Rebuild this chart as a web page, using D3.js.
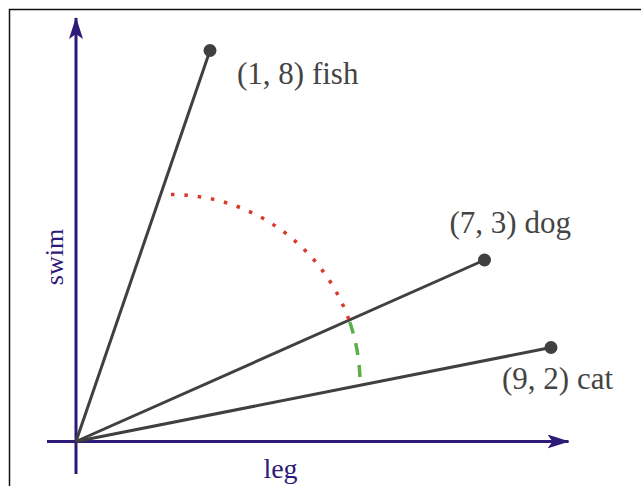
<!DOCTYPE html>
<html>
  <head>
    <meta charset="utf-8">
    <script type="text/javascript" src="https://d3js.org/d3.v7.min.js"></script>
    <title></title>
  </head>
  <style media="screen">
    body { margin: 0; background: #fff; }
    text { font-family: "Liberation Serif", "Times New Roman", serif; }
  </style>
  <body>

    <script type="text/javascript">

    // the three animals and their (leg, swim) values as labelled
    var names = ["fish", "dog", "cat"];
    var legValues = [1, 7, 9];
    var swimValues = [8, 3, 2];

    // where each vector is drawn in the sketch (schematic, not to scale)
    var drawnLeg = [2.68, 8.17, 9.5];
    var drawnSwim = [7.82, 3.63, 1.88];

    // axis titles
    var xTitle = "leg";
    var yTitle = "swim";

    var width = 641,
        height = 486;

    var x = d3.scaleLinear().domain([0, 10]).range([76, 576]);
    var y = d3.scaleLinear().domain([0, 8]).range([441.5, 41.5]);

    var axisColor = "#2e1a78",
        lineColor = "#404040";

    var svg = d3.select("body").append("svg")
        .attr("width", width)
        .attr("height", height);

    // frame (runs off the right and bottom edge)
    svg.append("rect")
        .attr("x", 9.5)
        .attr("y", 9.5)
        .attr("width", 800)
        .attr("height", 800)
        .attr("fill", "none")
        .attr("stroke", "#111")
        .attr("stroke-width", 1.5);

    var defs = svg.append("defs");
    defs.append("marker")
        .attr("id", "arrow")
        .attr("viewBox", "0 0 22 14")
        .attr("refX", 21)
        .attr("refY", 7)
        .attr("markerWidth", 22)
        .attr("markerHeight", 14)
        .attr("markerUnits", "userSpaceOnUse")
        .attr("orient", "auto")
      .append("path")
        .attr("d", "M0,0 L22,7 L0,14 L5,7 Z")
        .attr("fill", axisColor);

    // axes
    svg.append("line")
        .attr("x1", x(-0.58)).attr("y1", y(0))
        .attr("x2", x(9.85)).attr("y2", y(0))
        .attr("stroke", axisColor)
        .attr("stroke-width", 3)
        .attr("marker-end", "url(#arrow)");

    svg.append("line")
        .attr("x1", x(0)).attr("y1", y(-0.65))
        .attr("x2", x(0)).attr("y2", y(8.47))
        .attr("stroke", axisColor)
        .attr("stroke-width", 3)
        .attr("marker-end", "url(#arrow)");

    svg.append("text")
        .attr("x", 280.5)
        .attr("y", 478)
        .attr("text-anchor", "middle")
        .attr("fill", axisColor)
        .attr("font-size", 28)
        .text(xTitle);

    svg.append("text")
        .attr("transform", "translate(62.5,257) rotate(-90)")
        .attr("text-anchor", "middle")
        .attr("fill", axisColor)
        .attr("font-size", 26)
        .text(yTitle);

    var data = names.map(function(n, i) {
      return {name: n, leg: legValues[i], swim: swimValues[i],
              px: drawnLeg[i], py: drawnSwim[i]};
    });

    // vectors from the origin
    svg.selectAll(".vec")
        .data(data)
      .enter().append("line")
        .attr("class", "vec")
        .attr("x1", x(0)).attr("y1", y(0))
        .attr("x2", function(d) { return x(d.px); })
        .attr("y2", function(d) { return y(d.py); })
        .attr("stroke", lineColor)
        .attr("stroke-width", 3);

    // angle arcs: one circle, red from its top to the dog vector,
    // green from the dog vector to the cat vector
    var cx = x(1.9), cy = y(1.16), r = x(3.78) - x(0);
    function hitAngle(d) {
      var ox = x(0), oy = y(0);
      var dx = x(d.px) - ox, dy = y(d.py) - oy;
      var ex = ox - cx, ey = oy - cy;
      var a = dx * dx + dy * dy,
          b = 2 * (dx * ex + dy * ey),
          c = ex * ex + ey * ey - r * r;
      var t = (-b + Math.sqrt(b * b - 4 * a * c)) / (2 * a);
      return Math.atan2(oy + t * dy - cy, ox + t * dx - cx);
    }
    var aDog = hitAngle(data[1]),
        aCat = hitAngle(data[2]);

    var red = d3.path();
    red.arc(cx, cy, r, -Math.PI / 2, aDog);
    svg.append("path")
        .attr("d", red.toString())
        .attr("fill", "none")
        .attr("stroke", "#d63a2a")
        .attr("stroke-width", 3.5)
        .attr("stroke-dasharray", "3.5 9.9");

    var green = d3.path();
    green.arc(cx, cy, r, aDog, aCat);
    svg.append("path")
        .attr("d", green.toString())
        .attr("fill", "none")
        .attr("stroke", "#5fad4a")
        .attr("stroke-width", 3.5)
        .attr("stroke-dasharray", "12 10")
        .attr("stroke-dashoffset", -2);

    // end points
    svg.selectAll(".dot")
        .data(data)
      .enter().append("circle")
        .attr("class", "dot")
        .attr("cx", function(d) { return x(d.px); })
        .attr("cy", function(d) { return y(d.py); })
        .attr("r", 6.5)
        .attr("fill", lineColor);

    // label placement relative to each dot
    var labelOffset = [[27, 33], [-35, -27], [-49, 41]];
    svg.selectAll(".lab")
        .data(data)
      .enter().append("text")
        .attr("class", "lab")
        .attr("x", function(d, i) { return x(d.px) + labelOffset[i][0]; })
        .attr("y", function(d, i) { return y(d.py) + labelOffset[i][1]; })
        .attr("fill", "#444")
        .attr("font-size", 31)
        .text(function(d) { return "(" + d.leg + ", " + d.swim + ") " + d.name; });

    </script>

  </body>
</html>
